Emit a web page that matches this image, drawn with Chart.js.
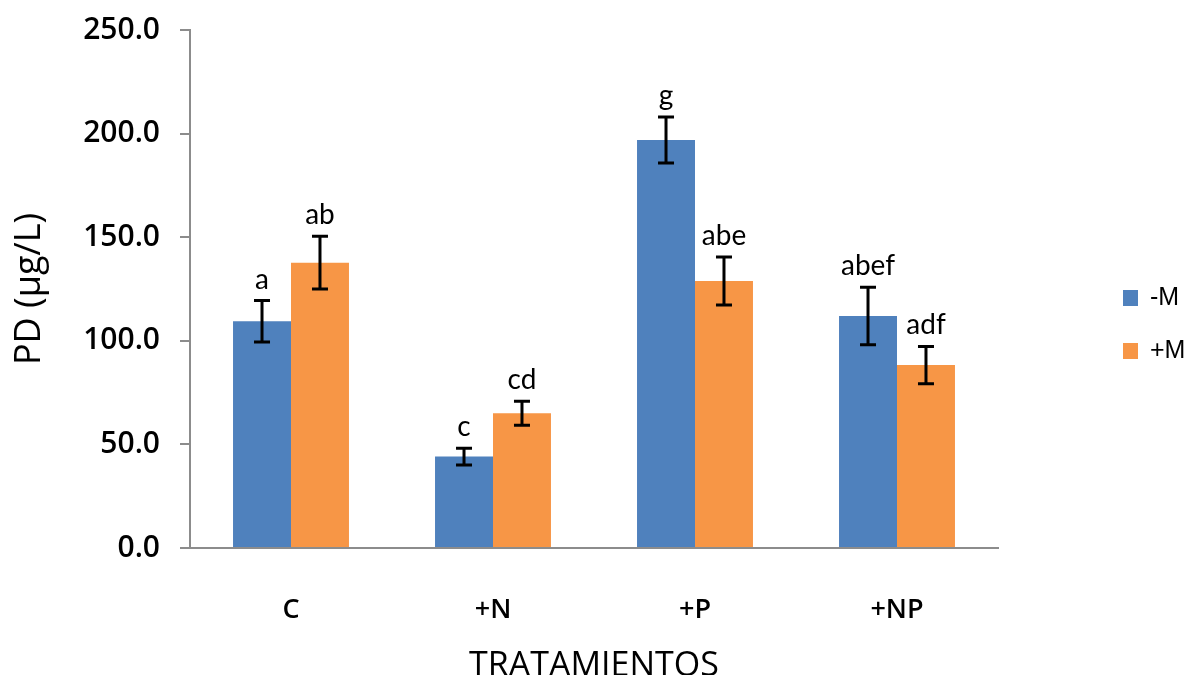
<!DOCTYPE html>
<html>
<head>
<meta charset="utf-8">
<script src="https://cdn.jsdelivr.net/npm/chart.js@4.4.1/dist/chart.umd.min.js"></script>
<style>
html,body{margin:0;padding:0;background:#fff;}
#wrap{width:1192px;height:675px;position:relative;}
</style>
</head>
<body>
<div id="wrap"><canvas id="c" width="1192" height="675"></canvas></div>
<script>
const categories = ['C', '+N', '+P', '+NP'];
const seriesNames = ['-M', '+M'];
const valuesMinusM = [109.4, 44.1, 196.9, 112.0];
const valuesPlusM = [137.7, 65.0, 128.9, 88.3];
const errorsMinusM = [10.0, 4.0, 11.1, 13.9];
const errorsPlusM = [12.7, 5.8, 11.6, 9.0];
const lettersMinusM = ['a', 'c', 'g', 'abef'];
const lettersPlusM = ['ab', 'cd', 'abe', 'adf'];
const yTicks = [0, 50, 100, 150, 200, 250];

const BLUE = '#4F81BD';
const ORANGE = '#F79646';
const AXIS = '#8C8C8C';

const errorBarPlugin = {
  id: 'errorBars',
  afterDatasetsDraw(chart) {
    const ctx = chart.ctx;
    const y = chart.scales.y;
    chart.data.datasets.forEach((ds, di) => {
      const meta = chart.getDatasetMeta(di);
      meta.data.forEach((bar, i) => {
        const v = ds.data[i], e = ds.errors[i];
        const yt = y.getPixelForValue(v + e);
        const yb = y.getPixelForValue(v - e);
        const x = bar.x;
        ctx.save();
        ctx.strokeStyle = '#000';
        ctx.lineWidth = 3;
        ctx.beginPath();
        ctx.moveTo(x, yt); ctx.lineTo(x, yb);
        ctx.moveTo(x - 8, yt); ctx.lineTo(x + 8, yt);
        ctx.moveTo(x - 8, yb); ctx.lineTo(x + 8, yb);
        ctx.stroke();
        ctx.fillStyle = '#000';
        ctx.font = '28px Lato, "Open Sans", sans-serif';
        ctx.textAlign = 'center';
        ctx.textBaseline = 'alphabetic';
        ctx.fillText(ds.letters[i], x, yt - 12);
        ctx.restore();
      });
    });
  }
};

const legendPlugin = {
  id: 'customLegend',
  afterDraw(chart) {
    const ctx = chart.ctx;
    const rows = [298, 351];
    chart.data.datasets.forEach((ds, di) => {
      const cy = rows[di];
      ctx.save();
      ctx.fillStyle = ds.backgroundColor;
      ctx.fillRect(1123, cy - 8, 15, 16);
      ctx.fillStyle = '#000';
      ctx.font = '25px "Liberation Sans", Arial, sans-serif';
      ctx.textAlign = 'left';
      ctx.textBaseline = 'middle';
      ctx.fillText(ds.label, 1150, cy);
      ctx.restore();
    });
  }
};

new Chart(document.getElementById('c'), {
  type: 'bar',
  data: {
    labels: categories,
    datasets: [
      { label: seriesNames[0], data: valuesMinusM, errors: errorsMinusM, letters: lettersMinusM,
        backgroundColor: BLUE, borderWidth: 0 },
      { label: seriesNames[1], data: valuesPlusM, errors: errorsPlusM, letters: lettersPlusM,
        backgroundColor: ORANGE, borderWidth: 0 }
    ]
  },
  options: {
    responsive: false,
    animation: false,
    devicePixelRatio: 1,
    layout: { padding: { top: 30, right: 194, left: 0, bottom: 0 } },
    datasets: { bar: { categoryPercentage: 0.574, barPercentage: 1.0 } },
    plugins: { legend: { display: false }, tooltip: { enabled: false } },
    scales: {
      x: {
        grid: { display: false, drawTicks: false },
        border: { display: true, color: AXIS, width: 2 },
        ticks: { color: '#000', padding: 46, font: { family: '"Open Sans", sans-serif', size: 27, weight: '600' } },
        title: { display: true, text: 'TRATAMIENTOS', color: '#000',
                 font: { family: '"Open Sans", sans-serif', size: 34, lineHeight: 0.5 }, padding: { top: 0, bottom: 0 } },
        afterFit(s) { s.height = 127; s.paddingLeft = 0; s.paddingRight = 0; }
      },
      y: {
        min: 0, max: 250,
        afterBuildTicks(s) { s.ticks = yTicks.map(v => ({ value: v })); },
        grid: { drawOnChartArea: false, drawTicks: true, tickLength: 10, color: AXIS, lineWidth: 2 },
        border: { display: true, color: AXIS, width: 2 },
        ticks: { color: '#000', padding: 20, callback: v => Number(v).toFixed(1),
                 font: { family: '"Open Sans", sans-serif', size: 30, weight: '600' } },
        title: { display: true, text: 'PD (µg/L)', color: '#000',
                 font: { family: '"Open Sans", sans-serif', size: 36 }, padding: { top: 8, bottom: 0 } },
        afterFit(s) { s.width = 190; s.paddingTop = 0; s.paddingBottom = 0; }
      }
    }
  },
  plugins: [errorBarPlugin, legendPlugin]
});
</script>
</body>
</html>
